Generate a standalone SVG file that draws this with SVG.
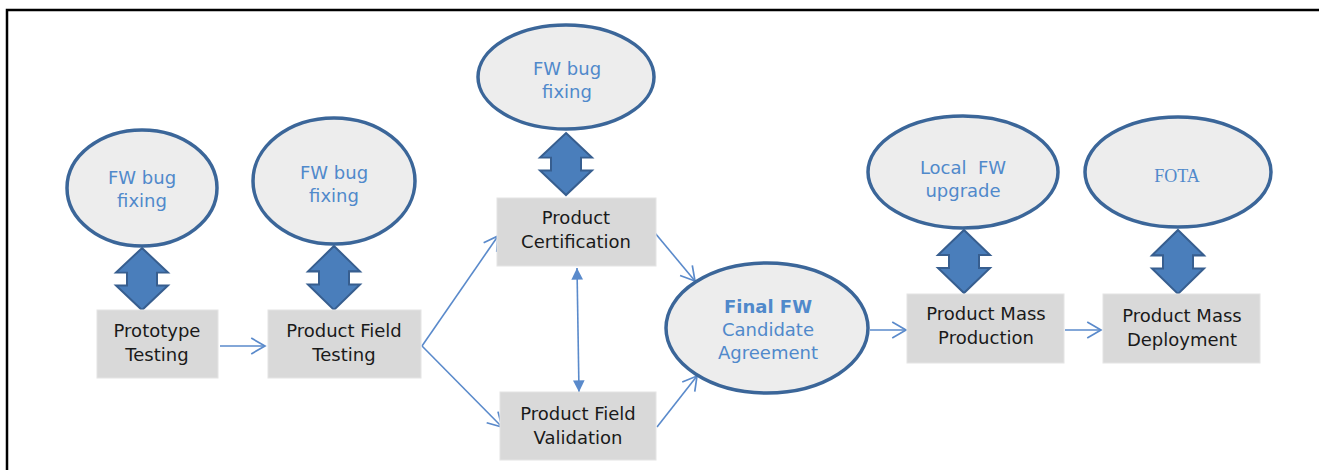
<svg xmlns="http://www.w3.org/2000/svg" width="1319" height="470" viewBox="0 0 1319 470">
<defs>
<style>
.ell{fill:#EDEDED;stroke:#3B6699;stroke-width:3.5}
.box{fill:#D9D9D9;stroke:#E4E4E4;stroke-width:1}
.et{font-family:"DejaVu Sans",Verdana,sans-serif;font-size:18px;fill:#5089CB;text-anchor:middle}
.bt{font-family:"DejaVu Sans",Verdana,sans-serif;font-size:18px;fill:#1A1A1A;text-anchor:middle}
.con{fill:none;stroke:#5A8ACB;stroke-width:1.6}
.blk{fill:#4A7EBB;stroke:#375E8F;stroke-width:2;stroke-linejoin:miter}
</style>
<marker id="open" markerUnits="userSpaceOnUse" markerWidth="18" markerHeight="20" viewBox="-15 -9 17 18" refX="0" refY="0" orient="auto">
<path d="M-13,-7.5 L0,0 L-13,7.5" fill="none" stroke="#5A8ACB" stroke-width="1.6"/>
</marker>
<marker id="fill" markerUnits="userSpaceOnUse" markerWidth="14" markerHeight="14" viewBox="-11 -6 12 12" refX="0" refY="0" orient="auto-start-reverse">
<path d="M-10,-5 L0,0 L-10,5 Z" fill="#5A8ACB"/>
</marker>
<path id="dbl" d="M0,0 L26,25 L15,25 L15,38 L26,38 L0,63 L-26,38 L-15,38 L-15,25 L-26,25 Z"/>
</defs>
<rect width="1319" height="470" fill="#fff"/>
<path d="M7,470 L7,10 L1319,10" fill="none" stroke="#000" stroke-width="2.5"/>

<g id="connectors">
<line class="con" x1="220" y1="346" x2="265" y2="346" marker-end="url(#open)"/>
<line class="con" x1="422" y1="346" x2="498" y2="236" marker-end="url(#open)"/>
<line class="con" x1="422" y1="346" x2="502" y2="427" marker-end="url(#open)"/>
<line class="con" x1="577" y1="268" x2="579" y2="392" marker-start="url(#fill)" marker-end="url(#fill)"/>
<line class="con" x1="655" y1="233" x2="695" y2="281" marker-end="url(#open)"/>
<line class="con" x1="657" y1="427" x2="697" y2="376" marker-end="url(#open)"/>
<line class="con" x1="870" y1="330" x2="906" y2="330" marker-end="url(#open)"/>
<line class="con" x1="1065" y1="330" x2="1101" y2="330" marker-end="url(#open)"/>
<use href="#dbl" class="blk" transform="translate(142,248) scale(1,0.985)"/>
<use href="#dbl" class="blk" transform="translate(334,246) scale(1,1.015)"/>
<use href="#dbl" class="blk" transform="translate(566,133) scale(1,0.985)"/>
<use href="#dbl" class="blk" transform="translate(964,230)"/>
<use href="#dbl" class="blk" transform="translate(1178,230) scale(1,1.015)"/>
</g>

<g id="fw1">
<ellipse class="ell" cx="142" cy="188" rx="75" ry="58"/>
<text class="et" x="142" y="184">FW bug</text>
<text class="et" x="142" y="207">fixing</text>
</g>
<g id="fw2">
<ellipse class="ell" cx="334" cy="181" rx="81" ry="63"/>
<text class="et" x="334" y="179">FW bug</text>
<text class="et" x="334" y="202">fixing</text>
</g>
<g id="fw3">
<ellipse class="ell" cx="566" cy="77" rx="88" ry="52"/>
<text class="et" x="567" y="75">FW bug</text>
<text class="et" x="567" y="98">fixing</text>
</g>
<g id="localfw">
<ellipse class="ell" cx="963" cy="172" rx="95" ry="56"/>
<text class="et" x="963" y="174" xml:space="preserve">Local  FW</text>
<text class="et" x="963" y="197">upgrade</text>
</g>
<g id="fota">
<ellipse class="ell" cx="1178" cy="172" rx="93" ry="55"/>
<text x="1177" y="182" style="font-family:'Liberation Serif','Times New Roman',serif;font-size:18px;fill:#5089CB;text-anchor:middle">FOTA</text>
</g>
<g id="final">
<ellipse class="ell" cx="767" cy="328" rx="101" ry="65"/>
<text class="et" x="768" y="313" font-weight="bold">Final FW</text>
<text class="et" x="768" y="336">Candidate</text>
<text class="et" x="768" y="359">Agreement</text>
</g>

<g id="proto">
<rect class="box" x="97" y="310" width="121" height="68"/>
<text class="bt" x="157" y="337">Prototype</text>
<text class="bt" x="157" y="361">Testing</text>
</g>
<g id="pft">
<rect class="box" x="268" y="310" width="153" height="68"/>
<text class="bt" x="344" y="337">Product Field</text>
<text class="bt" x="344" y="361">Testing</text>
</g>
<g id="cert">
<rect class="box" x="497" y="198" width="159" height="68"/>
<text class="bt" x="576" y="224">Product</text>
<text class="bt" x="576" y="248">Certification</text>
</g>
<g id="pfv">
<rect class="box" x="500" y="392" width="156" height="68"/>
<text class="bt" x="578" y="420">Product Field</text>
<text class="bt" x="578" y="444">Validation</text>
</g>
<g id="massprod">
<rect class="box" x="907" y="294" width="157" height="69"/>
<text class="bt" x="986" y="320">Product Mass</text>
<text class="bt" x="986" y="344">Production</text>
</g>
<g id="massdep">
<rect class="box" x="1103" y="294" width="157" height="69"/>
<text class="bt" x="1182" y="322">Product Mass</text>
<text class="bt" x="1182" y="346">Deployment</text>
</g>
</svg>
